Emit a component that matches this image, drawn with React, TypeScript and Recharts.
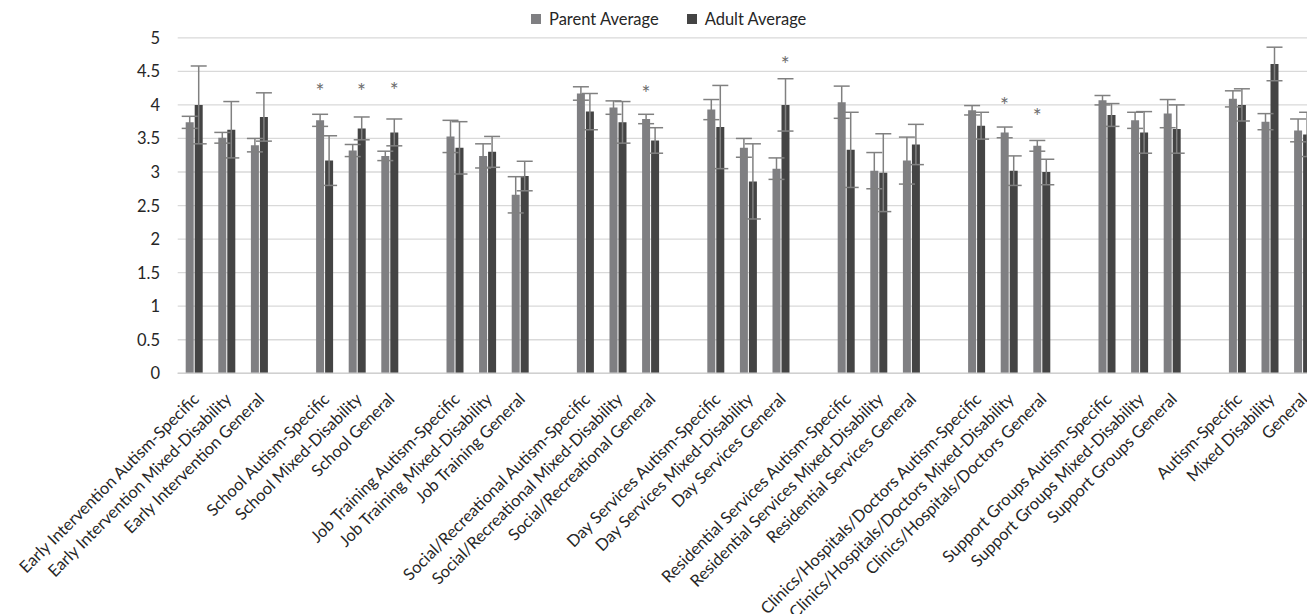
import React from 'react';
import { ComposedChart, Bar, XAxis, YAxis, CartesianGrid, ErrorBar, ReferenceDot } from 'recharts';

const categories = [
  'Early Intervention Autism-Specific', 'Early Intervention Mixed-Disability', 'Early Intervention General', 'gap1',
  'School Autism-Specific', 'School Mixed-Disability', 'School General', 'gap2',
  'Job Training Autism-Specific', 'Job Training Mixed-Disability', 'Job Training General', 'gap3',
  'Social/Recreational Autism-Specific', 'Social/Recreational Mixed-Disability', 'Social/Recreational General', 'gap4',
  'Day Services Autism-Specific', 'Day Services Mixed-Disability', 'Day Services General', 'gap5',
  'Residential Services Autism-Specific', 'Residential Services Mixed-Disability', 'Residential Services General', 'gap6',
  'Clinics/Hospitals/Doctors Autism-Specific', 'Clinics/Hospitals/Doctors Mixed-Disability', 'Clinics/Hospitals/Doctors General', 'gap7',
  'Support Groups Autism-Specific', 'Support Groups Mixed-Disability', 'Support Groups General', 'gap8',
  'Autism-Specific', 'Mixed Disability', 'General',
];

const parentAvg = [3.74, 3.51, 3.40, null, 3.77, 3.32, 3.24, null, 3.53, 3.24, 2.66, null, 4.17, 3.96, 3.79, null, 3.93, 3.36, 3.05, null, 4.04, 3.02, 3.17, null, 3.92, 3.59, 3.39, null, 4.07, 3.77, 3.87, null, 4.09, 3.75, 3.62];
const parentErr = [0.09, 0.08, 0.10, null, 0.09, 0.09, 0.07, null, 0.24, 0.18, 0.27, null, 0.10, 0.10, 0.07, null, 0.15, 0.14, 0.16, null, 0.24, 0.27, 0.35, null, 0.07, 0.08, 0.08, null, 0.07, 0.12, 0.21, null, 0.12, 0.12, 0.17];
const adultAvg = [4.00, 3.63, 3.82, null, 3.17, 3.65, 3.59, null, 3.36, 3.30, 2.94, null, 3.90, 3.74, 3.47, null, 3.67, 2.86, 4.00, null, 3.33, 2.99, 3.41, null, 3.69, 3.02, 3.00, null, 3.85, 3.59, 3.64, null, 4.00, 4.61, 3.56];
const adultErr = [0.58, 0.42, 0.36, null, 0.37, 0.17, 0.20, null, 0.39, 0.23, 0.22, null, 0.27, 0.31, 0.19, null, 0.62, 0.56, 0.39, null, 0.56, 0.58, 0.30, null, 0.20, 0.22, 0.19, null, 0.17, 0.31, 0.36, null, 0.24, 0.25, 0.33];

const yTicks = [0, 0.5, 1, 1.5, 2, 2.5, 3, 3.5, 4, 4.5, 5];

const starCategories = ['School Autism-Specific', 'School Mixed-Disability', 'School General', 'Social/Recreational General', 'Day Services General', 'Clinics/Hospitals/Doctors Mixed-Disability', 'Clinics/Hospitals/Doctors General'];
const starSeries = ['parent', 'adult', 'adult', 'parent', 'adult', 'parent', 'parent'];
const starValues = [4.25, 4.25, 4.26, 4.22, 4.65, 4.04, 3.88];

const seriesNames = ['Parent Average', 'Adult Average'];
const PARENT = '#7f7f82';
const ADULT = '#444444';
const ERR = '#808080';
const FONT = 'Lato, "Open Sans", sans-serif';

const data = categories.map((name, i) => ({
  name,
  parent: parentAvg[i],
  parentErr: parentErr[i],
  adult: adultAvg[i],
  adultErr: adultErr[i],
}));

const XTick = (props: any) => {
  const { x, y, payload } = props;
  const v: string = payload.value;
  if (v.startsWith('gap')) return null;
  const ax = x + 6;
  const ay = y + 27;
  return (
    <text x={ax} y={ay} transform={`rotate(-45, ${ax}, ${ay})`} textAnchor="end" fontFamily={FONT} fontSize={16.5} fill="#262626">
      {v}
    </text>
  );
};

const YTick = (props: any) => {
  const { y, payload } = props;
  return (
    <text x={160} y={y} dy={6} textAnchor="end" fontFamily={FONT} fontSize={16.5} fill="#262626">
      {String(payload.value)}
    </text>
  );
};

const Star = (dx: number) => (p: any) => (
  <text x={p.cx + dx} y={p.cy} dy={11} textAnchor="middle" fontFamily={FONT} fontSize={21} fill="#6e6e6e" stroke="none">*</text>
);

export default function App() {
  return (
    <div style={{ position: 'absolute', left: 0, top: 0, width: 1307, height: 614, overflow: 'hidden', background: '#fff' }}>
      <div style={{ position: 'absolute', top: 9, left: 531, display: 'flex', alignItems: 'center', fontFamily: FONT, fontSize: 16.5, color: '#262626', whiteSpace: 'nowrap' }}>
        <span style={{ width: 10, height: 10, background: PARENT, display: 'inline-block', marginRight: 8 }} />
        <span>{seriesNames[0]}</span>
        <span style={{ width: 10, height: 10, background: ADULT, display: 'inline-block', marginLeft: 28, marginRight: 8 }} />
        <span>{seriesNames[1]}</span>
      </div>
      <ComposedChart
        width={1330}
        height={614}
        data={data}
        margin={{ top: 37.8, right: 11.3, bottom: 0, left: 0 }}
        barSize={8}
        barGap={1}
        style={{ position: 'absolute', left: 0, top: 0 }}
      >
        <CartesianGrid vertical={false} stroke="#d9d9d9" strokeWidth={1.3} />
        <XAxis
          dataKey="name"
          interval={0}
          height={240.7}
          tickLine={false}
          tickSize={0}
          tickMargin={0}
          axisLine={{ stroke: '#d0d0d0', strokeWidth: 1.5 }}
          tick={<XTick />}
        />
        <YAxis
          width={177.7}
          domain={[0, 5]}
          ticks={yTicks}
          axisLine={false}
          tickLine={false}
          tick={<YTick />}
        />
        <Bar dataKey="parent" name={seriesNames[0]} fill={PARENT} isAnimationActive={false}>
          <ErrorBar dataKey="parentErr" width={8} stroke={ERR} strokeWidth={1.5} />
        </Bar>
        <Bar dataKey="adult" name={seriesNames[1]} fill={ADULT} isAnimationActive={false}>
          <ErrorBar dataKey="adultErr" width={8} stroke={ERR} strokeWidth={1.5} />
        </Bar>
        {starCategories.map((c, i) => (
          <ReferenceDot
            key={c}
            x={c}
            y={starValues[i]}
            r={0}
            shape={Star(starSeries[i] === 'parent' ? -4.5 : 4.5)}
          />
        ))}
      </ComposedChart>
    </div>
  );
}
